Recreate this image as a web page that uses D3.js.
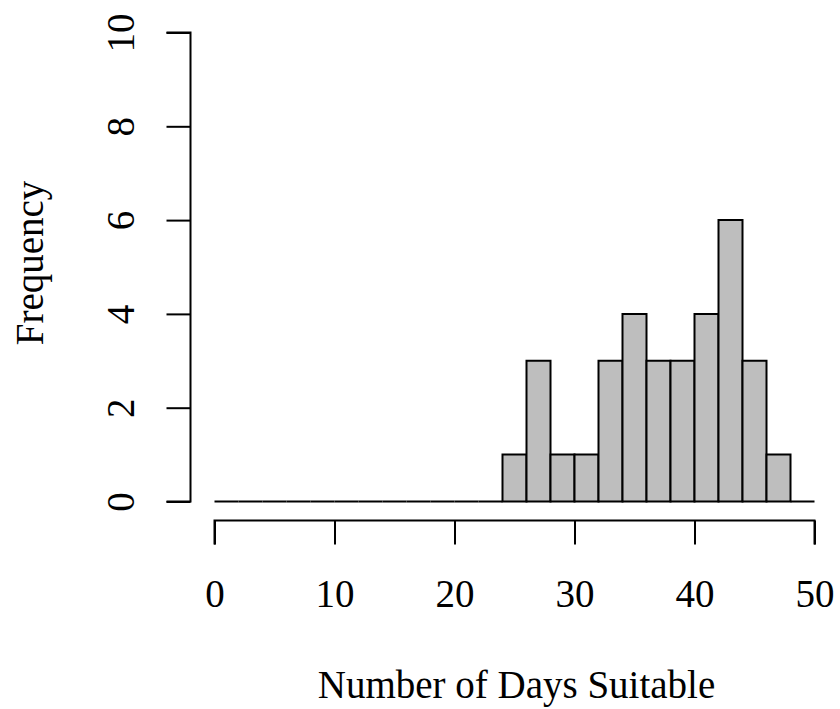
<!DOCTYPE html>
<html>
<head>
<meta charset="utf-8">
<script src="https://cdn.jsdelivr.net/npm/d3@7"></script>
<style>
  html, body { margin: 0; padding: 0; background: #fff; }
  svg { display: block; }
  text { font-family: "Liberation Serif", "DejaVu Serif", serif; fill: #000; }
</style>
</head>
<body>
<svg id="chart" width="840" height="709"></svg>
<script>
// Histogram bin breaks and counts
const breaks = [0,2,4,6,8,10,12,14,16,18,20,22,24,26,28,30,32,34,36,38,40,42,44,46,48,50];
const counts = [0,0,0,0,0,0,0,0,0,0,0,0,1,3,1,1,3,4,3,3,4,6,3,1,0];
const xTicks = [0,10,20,30,40,50];
const yTicks = [0,2,4,6,8,10];
const xLabel = "Number of Days Suitable";
const yLabel = "Frequency";

const svg = d3.select("#chart");
const x = d3.scaleLinear().domain([0, 50]).range([214.5, 814.5]);
const y = d3.scaleLinear().domain([0, 10]).range([501.5, 32.5]);

const bins = counts.map((c, i) => ({ x0: breaks[i], x1: breaks[i + 1], n: c }));

// Bars (paths so zero-height bins render as baseline segments)
svg.append("g").selectAll("path")
  .data(bins)
  .join("path")
  .attr("d", d => `M${x(d.x0)},${y(0)}V${y(d.n)}H${x(d.x1)}V${y(0)}Z`)
  .attr("fill", "#bebebe")
  .attr("stroke", "#000")
  .attr("stroke-width", 2)
  .attr("stroke-linejoin", "miter");

// X axis
const xAxis = d3.axisBottom(x).tickValues(xTicks).tickSize(24).tickPadding(35).tickFormat(d3.format("d"));
const gx = svg.append("g").attr("transform", "translate(0,520.5)").call(xAxis);
gx.select(".domain").attr("stroke-width", 2).attr("d", `M${x(0)},24V0H${x(50)}V24`);
gx.selectAll(".tick line").attr("stroke-width", 2);
gx.selectAll(".tick text").attr("font-size", 39).attr("font-family", "Liberation Serif").attr("dy", "0.71em");

// Y axis
const yAxis = d3.axisLeft(y).tickValues(yTicks).tickSize(24).tickFormat(d3.format("d"));
const gy = svg.append("g").attr("transform", "translate(190.5,0)").call(yAxis);
gy.select(".domain").attr("stroke-width", 2).attr("d", `M-24,${y(0)}H0V${y(10)}H-24`);
gy.selectAll(".tick line").attr("stroke-width", 2);
gy.selectAll(".tick text")
  .attr("font-size", 39)
  .attr("font-family", "Liberation Serif")
  .attr("x", null).attr("dy", null)
  .attr("text-anchor", "middle")
  .attr("transform", "translate(-57,0) rotate(-90)");

// Axis labels
svg.append("text")
  .attr("x", (x(0) + x(50)) / 2 + 2)
  .attr("y", 698)
  .attr("text-anchor", "middle")
  .attr("font-size", 39)
  .text(xLabel);

svg.append("text")
  .attr("transform", `translate(43,${(y(0) + y(10)) / 2 - 4}) rotate(-90)`)
  .attr("text-anchor", "middle")
  .attr("font-size", 39)
  .text(yLabel);
</script>
</body>
</html>
